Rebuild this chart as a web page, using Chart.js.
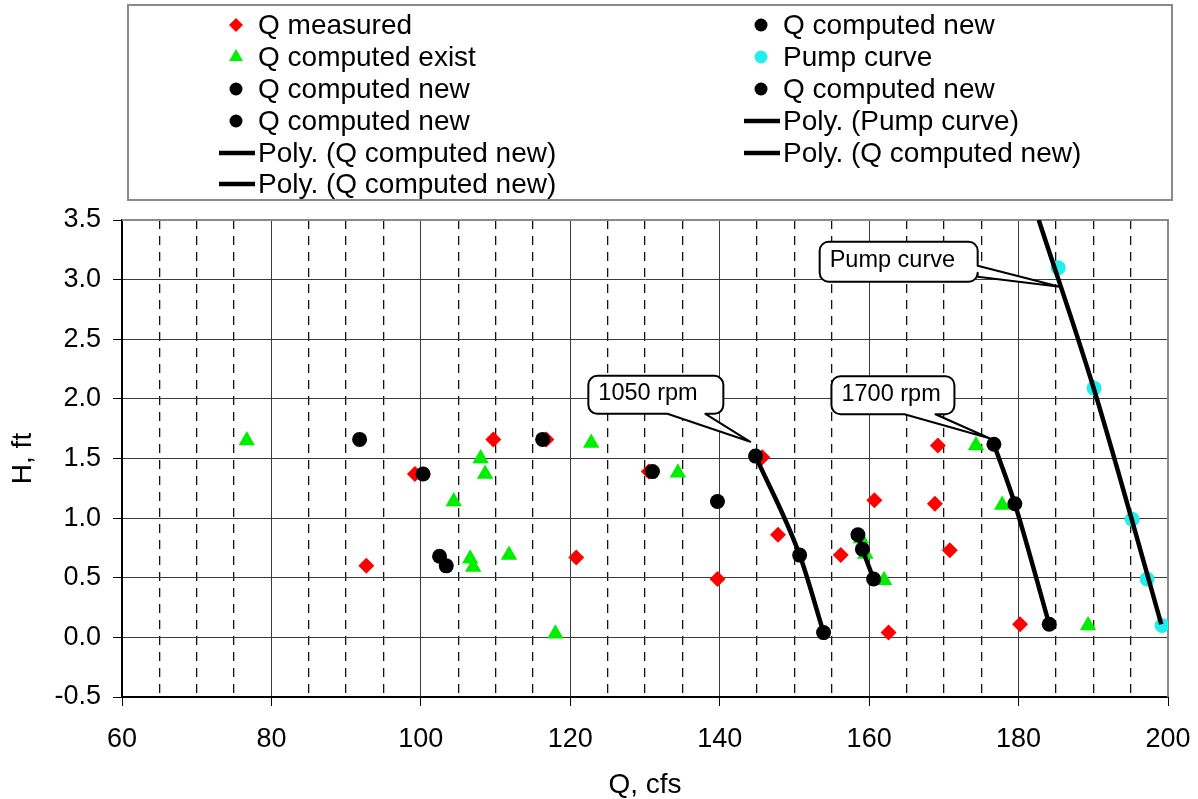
<!DOCTYPE html>
<html>
<head>
<meta charset="utf-8">
<script src="https://cdn.jsdelivr.net/npm/chart.js@4/dist/chart.umd.min.js"></script>
<style>
html,body{margin:0;padding:0;background:#ffffff;}
#wrap{width:1198px;height:799px;position:relative;}
</style>
</head>
<body>
<div id="wrap"><canvas id="c" width="1198" height="799"></canvas></div>
<script>
// ---------------- data ----------------
const xTickStep = 20;
const xMinorStep = 5;
const yTickStep = 0.5;

const measuredQ = [92.7, 99.2, 109.7, 116.8, 120.8, 130.5, 139.7, 145.7, 147.8, 156.2, 160.7, 162.6, 169.2, 168.8, 170.8, 180.2];
const measuredH = [0.60, 1.37, 1.66, 1.66, 0.67, 1.39, 0.49, 1.51, 0.86, 0.69, 1.15, 0.04, 1.61, 1.12, 0.73, 0.11];

const existQ = [76.7, 108.0, 108.6, 104.4, 106.6, 107.0, 111.8, 118.0, 122.8, 134.4, 158.9, 159.5, 162.0, 174.3, 177.8, 189.3];
const existH = [1.65, 1.50, 1.37, 1.14, 0.66, 0.59, 0.69, 0.03, 1.63, 1.38, 0.83, 0.70, 0.48, 1.61, 1.11, 0.10];

const newAQ = [91.8, 100.3, 102.5, 103.4, 116.3, 131.0, 139.7];
const newAH = [1.66, 1.37, 0.68, 0.60, 1.66, 1.39, 1.14];

const new1050Q = [144.8, 150.7, 153.9];
const new1050H = [1.52, 0.69, 0.04];

const newMidQ = [158.5, 159.1, 160.6];
const newMidH = [0.86, 0.74, 0.49];

const new1700Q = [176.7, 179.5, 184.1];
const new1700H = [1.62, 1.12, 0.11];

const pumpQ = [185.3, 190.1, 195.2, 197.2, 199.2];
const pumpH = [3.10, 2.09, 0.99, 0.49, 0.10];

// trend line (Poly. Pump curve)
const pumpTrendQ = [182.7, 190.0, 195.1, 199.1];
const pumpTrendH = [3.50, 2.10, 1.00, 0.11];

// callout anchors (data coordinates of the pointer tips)
const calloutText = ['1050 rpm', '1700 rpm', 'Pump curve'];
const calloutQ = [144.1, 176.1, 185.5];
const calloutH = [1.64, 1.67, 2.94];

// ---------------- helpers ----------------
const FONT = "'Liberation Sans', Arial, Helvetica, sans-serif";
const zip = (xs, ys) => xs.map((x, i) => ({x: x, y: ys[i]}));

function scatterSet(label, xs, ys, color, style, radius, order) {
  return {
    type: 'scatter', label: label, data: zip(xs, ys), showLine: false,
    pointStyle: style, pointRadius: radius, pointHoverRadius: radius,
    pointBackgroundColor: color, pointBorderColor: color, pointBorderWidth: 0,
    backgroundColor: color, borderColor: color, order: order
  };
}
function polySet(label, xs, ys) {
  return {
    type: 'line', label: label, data: zip(xs, ys), showLine: true,
    borderColor: '#000000', backgroundColor: '#000000', borderWidth: 4.5,
    pointRadius: 0, pointHoverRadius: 0, fill: false,
    cubicInterpolationMode: 'monotone', order: 0
  };
}

const datasets = [
  scatterSet('Q measured', measuredQ, measuredH, '#ff0000', 'rectRot', 8, 4),        // 0
  scatterSet('Q computed exist', existQ, existH, '#00ee00', 'triangle', 9.5, 3),      // 1
  scatterSet('Q computed new', newAQ, newAH, '#000000', 'circle', 7.5, 1),            // 2
  scatterSet('Q computed new', new1050Q, new1050H, '#000000', 'circle', 7.5, 1),      // 3
  scatterSet('Q computed new', newMidQ, newMidH, '#000000', 'circle', 7.5, 1),        // 4
  scatterSet('Q computed new', new1700Q, new1700H, '#000000', 'circle', 7.5, 1),      // 5
  scatterSet('Pump curve', pumpQ, pumpH, '#22eeee', 'circle', 7.5, 2),                // 6
  polySet('Poly. (Pump curve)', pumpTrendQ, pumpTrendH),                              // 7
  polySet('Poly. (Q computed new)', new1050Q, new1050H),                              // 8
  polySet('Poly. (Q computed new)', newMidQ, newMidH),                                // 9
  polySet('Poly. (Q computed new)', new1700Q, new1700H)                               // 10
];

// legend arrangement: [datasetIndex, column, row]
const legendCells = [[0,0,0],[2,1,0],[1,0,1],[6,1,1],[3,0,2],[4,1,2],[5,0,3],[7,1,3],[8,0,4],[9,1,4],[10,0,5]];

const legendPlugin = {
  id: 'boxLegend',
  afterDraw(chart) {
    const ctx = chart.ctx;
    ctx.save();
    ctx.strokeStyle = '#8a8a8a';
    ctx.lineWidth = 2;
    ctx.strokeRect(128, 5, 1044, 195);
    const colMarker = [236, 761];
    const colText = [258, 783];
    const rowY = [25, 57, 89, 121, 153, 184];
    ctx.font = '28px ' + FONT;
    ctx.textBaseline = 'middle';
    ctx.textAlign = 'left';
    legendCells.forEach(([di, col, row]) => {
      const ds = chart.data.datasets[di];
      const y = rowY[row];
      if (ds.type === 'line') {
        ctx.strokeStyle = ds.borderColor;
        ctx.lineWidth = 4.5;
        ctx.beginPath();
        ctx.moveTo(colMarker[col] - 17, y);
        ctx.lineTo(colMarker[col] + 19, y);
        ctx.stroke();
      } else {
        ctx.fillStyle = ds.pointBackgroundColor;
        const r = ds.pointStyle === 'triangle' ? 8 : (ds.pointStyle === 'rectRot' ? 7 : 6.5);
        Chart.helpers.drawPoint(ctx, {pointStyle: ds.pointStyle, radius: r, rotation: 0, borderWidth: 0}, colMarker[col], y);
      }
      ctx.fillStyle = '#000000';
      ctx.fillText(ds.label, colText[col], y + 1);
    });
    ctx.restore();
  }
};

const framePlugin = {
  id: 'frame',
  beforeDatasetsDraw(chart) {
    const {ctx, chartArea: a} = chart;
    ctx.save();
    ctx.strokeStyle = '#8a8a8a';
    ctx.lineWidth = 2;
    ctx.beginPath();
    ctx.moveTo(a.left, a.top);
    ctx.lineTo(a.right, a.top);
    ctx.lineTo(a.right, a.bottom);
    ctx.stroke();
    ctx.restore();
  }
};

// callout geometry relative to tip (pixels): box [dx0, dy0, dx1, dy1], wedge side + base offsets
const calloutGeom = [
  {box: [-162, -66, -27, -28], side: 'bottom', base: [-83, -45]},
  {box: [-158, -62, -35, -24], side: 'bottom', base: [-85, -54]},
  {box: [-240, -45, -82, -5], side: 'right', base: [-21, -10]}
];

function calloutPath(ctx, tx, ty, g) {
  const x0 = tx + g.box[0], y0 = ty + g.box[1], x1 = tx + g.box[2], y1 = ty + g.box[3];
  const r = 9;
  ctx.beginPath();
  ctx.moveTo(x0 + r, y0);
  ctx.lineTo(x1 - r, y0);
  ctx.arcTo(x1, y0, x1, y0 + r, r);
  if (g.side === 'right') {
    ctx.lineTo(x1, ty + g.base[0]);
    ctx.lineTo(tx, ty);
    ctx.lineTo(x1, ty + g.base[1]);
  }
  ctx.lineTo(x1, y1 - r);
  ctx.arcTo(x1, y1, x1 - r, y1, r);
  if (g.side === 'bottom') {
    ctx.lineTo(tx + g.base[1], y1);
    ctx.lineTo(tx, ty);
    ctx.lineTo(tx + g.base[0], y1);
  }
  ctx.lineTo(x0 + r, y1);
  ctx.arcTo(x0, y1, x0, y1 - r, r);
  ctx.lineTo(x0, y0 + r);
  ctx.arcTo(x0, y0, x0 + r, y0, r);
  ctx.closePath();
  return {x0, y0, x1, y1};
}

const calloutPlugin = {
  id: 'callouts',
  afterDatasetsDraw(chart) {
    const ctx = chart.ctx;
    const xs = chart.scales.x, ys = chart.scales.y;
    ctx.save();
    calloutText.forEach((t, i) => {
      const tx = xs.getPixelForValue(calloutQ[i]);
      const ty = ys.getPixelForValue(calloutH[i]);
      const b = calloutPath(ctx, tx, ty, calloutGeom[i]);
      ctx.fillStyle = '#ffffff';
      ctx.fill();
      ctx.strokeStyle = '#000000';
      ctx.lineWidth = 2;
      ctx.lineJoin = 'round';
      ctx.stroke();
      ctx.fillStyle = '#000000';
      ctx.font = '23.5px ' + FONT;
      ctx.textBaseline = 'middle';
      ctx.textAlign = 'left';
      ctx.fillText(t, b.x0 + 10, (b.y0 + b.y1) / 2 - 1);
    });
    ctx.restore();
  }
};

new Chart(document.getElementById('c'), {
  type: 'scatter',
  data: {datasets: datasets},
  options: {
    responsive: false,
    animation: false,
    events: [],
    layout: {padding: {top: 220, left: 0, right: 30, bottom: 0}},
    plugins: {legend: {display: false}, tooltip: {enabled: false}, title: {display: false}},
    scales: {
      x: {
        type: 'linear', position: 'bottom', min: 60, max: 200,
        ticks: {stepSize: xTickStep, color: '#000', font: {family: FONT, size: 27}, padding: 17, maxRotation: 0},
        grid: {color: '#3a3a3a', lineWidth: 1, tickLength: 9, tickColor: '#000', tickWidth: 1},
        border: {color: '#000', width: 2},
        title: {display: true, text: 'Q, cfs', color: '#000', font: {family: FONT, size: 28}, padding: {top: 0, bottom: -3}},
        afterFit(s) { s.height = 102; s.paddingLeft = 0; s.paddingRight = 0; }
      },
      xMinor: {
        type: 'linear', position: 'top', min: 60, max: 200,
        ticks: {display: false, stepSize: xMinorStep},
        grid: {
          drawTicks: false, lineWidth: 1.3,
          color: (c) => (c.tick && Math.abs(c.tick.value % xTickStep) < 1e-6) ? 'rgba(0,0,0,0)' : '#111'
        },
        border: {display: false, dash: [9, 7]},
        afterFit(s) { s.height = 0; s.paddingLeft = 0; s.paddingRight = 0; }
      },
      y: {
        type: 'linear', position: 'left', min: -0.5, max: 3.5,
        ticks: {stepSize: yTickStep, color: '#000', font: {family: FONT, size: 27}, padding: 12,
                callback: (v) => Number(v).toFixed(1)},
        grid: {color: '#3a3a3a', lineWidth: 1, tickLength: 9, tickColor: '#000', tickWidth: 1},
        border: {color: '#000', width: 2},
        title: {display: true, text: 'H, ft', color: '#000', font: {family: FONT, size: 28}, padding: {top: 6, bottom: 0}},
        afterFit(s) { s.width = 122; s.paddingTop = 0; s.paddingBottom = 0; }
      }
    }
  },
  plugins: [framePlugin, calloutPlugin, legendPlugin]
});
</script>
</body>
</html>
